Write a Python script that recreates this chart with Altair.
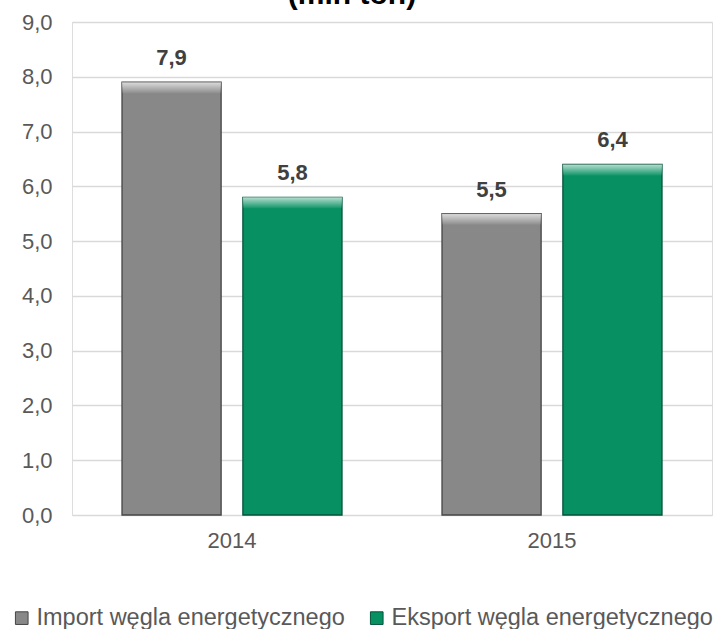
import altair as alt
import pandas as pd

years = ["2014", "2014", "2015", "2015"]
series = ["Import węgla energetycznego", "Eksport węgla energetycznego",
          "Import węgla energetycznego", "Eksport węgla energetycznego"]
values = [7.9, 5.8, 5.5, 6.4]
series_order = ["Import węgla energetycznego", "Eksport węgla energetycznego"]
series_colors = ["#888888", "#079163"]
stroke_colors = ["#454545", "#03533a"]
y_ticks = [0, 1, 2, 3, 4, 5, 6, 7, 8, 9]
title_lines = ["(mln ton)"]

df = pd.DataFrame({"year": years, "series": series, "value": values})
title_df = pd.DataFrame({"t": title_lines})

FONT = "Liberation Sans"

x = alt.X("year:N", title=None,
          scale=alt.Scale(paddingInner=0.3125, paddingOuter=0.15625),
          axis=alt.Axis(labelAngle=0, labelFontSize=22, labelColor="#595959",
                        labelPadding=15, domain=False, ticks=False, labelFont=FONT))
xoff = alt.XOffset("series:N", sort=series_order,
                   scale=alt.Scale(paddingInner=0.18, paddingOuter=0))
yscale = alt.Scale(domain=[0, 9], nice=False)

bars = alt.Chart(df).mark_bar(strokeWidth=1.3).encode(
    x=x, xOffset=xoff,
    y=alt.Y("value:Q", title=None, scale=yscale,
            axis=alt.Axis(values=y_ticks, labelExpr="replace(format(datum.value, '.1f'), '.', ',')",
                          labelFontSize=22, labelColor="#595959", labelPadding=20,
                          domain=False, ticks=False, gridColor="#d9d9d9", gridWidth=1.5,
                          labelFont=FONT)),
    color=alt.Color("series:N", sort=series_order,
                    scale=alt.Scale(domain=series_order, range=series_colors),
                    legend=alt.Legend(title=None, orient="none", legendX=-62, legendY=584,
                                      direction="horizontal", columns=2, symbolType="square",
                                      symbolSize=160, symbolStrokeWidth=1, symbolStrokeColor="#444",
                                      labelFontSize=23.5, labelColor="#595959", labelFont=FONT,
                                      columnPadding=20, labelOffset=3, labelLimit=400)),
    stroke=alt.Stroke("series:N", sort=series_order,
                      scale=alt.Scale(domain=series_order, range=stroke_colors), legend=None),
)

grad = alt.Gradient(
    gradient="linear",
    stops=[alt.GradientStop(color="rgba(255,255,255,0.7)", offset=0),
           alt.GradientStop(color="rgba(255,255,255,0.05)", offset=1)],
    x1=0, x2=0, y1=0, y2=1,
)

hl = alt.Chart(df).transform_calculate(
    top2="datum.value - 0.2"
).mark_bar(color=grad).encode(
    x=x, xOffset=xoff,
    y=alt.Y("value:Q", scale=yscale),
    y2="top2:Q",
)

labels = alt.Chart(df).transform_calculate(
    lab="replace(format(datum.value, '.1f'), '.', ',')"
).mark_text(baseline="alphabetic", dy=-17, fontSize=22, fontWeight="bold",
            color="#404040", font=FONT).encode(
    x=x, xOffset=xoff,
    y=alt.Y("value:Q", scale=yscale),
    text="lab:N",
)

title = alt.Chart(title_df).mark_text(
    baseline="bottom", align="center", fontSize=30, fontWeight="bold",
    color="#000000", font=FONT
).encode(x=alt.value(280), y=alt.value(-12), text="t:N")

chart = alt.layer(bars, hl, labels, title).properties(
    width=640, height=493,
    autosize=alt.AutoSizeParams(type="none"),
    padding={"left": 72, "top": 22, "right": 6, "bottom": 114},
).configure_view(stroke=None).configure(background="white")

chart.save("out.html", embed_options={"renderer": "svg", "actions": False})
